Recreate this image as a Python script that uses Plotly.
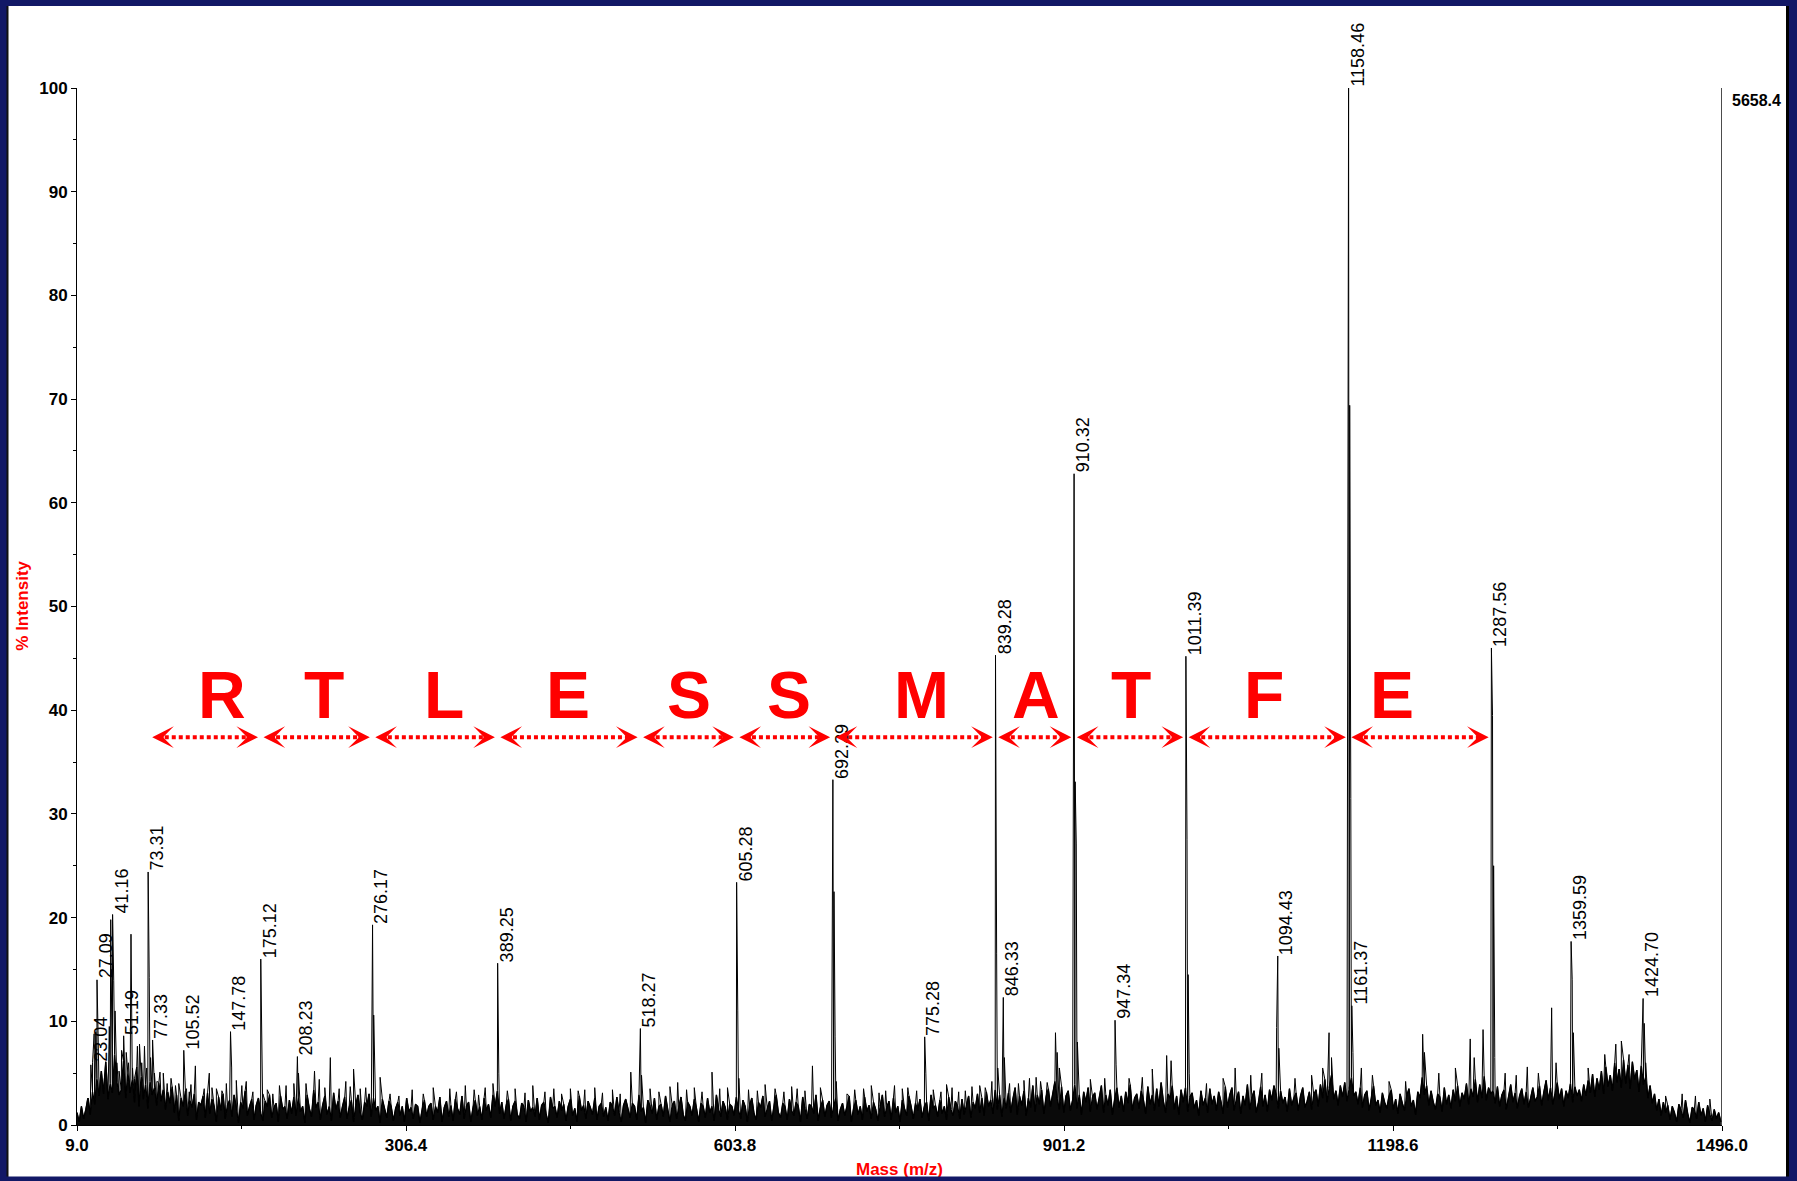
import plotly.graph_objects as go

# ---------------------------------------------------------------------------
# MS/MS spectrum of the peptide ...RTLESSMATFE (y-ion ladder annotated)
# ---------------------------------------------------------------------------

# Baseline noise, sampled on a regular m/z grid
mz_start = 9.0
mz_step = 2.0
noise_intensity = [
    1.2, 0.3, 1.8, 0.6, 1.5, 2.6, 1.0, 3.2, 2.0, 4.5, 2.8, 5.2, 3.0, 6.1, 2.5, 4.0, 3.1, 6.8, 4.2, 2.9,
    3.4, 6.2, 2.6, 5.0, 3.1, 4.4, 2.2, 5.6, 1.8, 4.7, 2.5, 3.9, 1.6, 4.2, 2.9, 3.6, 1.9, 4.1, 2.3, 3.4,
    1.5, 3.2, 2.1, 3.7, 1.2, 2.9, 0.4, 2.6, 1.8, 3.3, 0.9, 2.4, 1.7, 3.0, 0.5, 2.2, 1.9, 2.8, 0.7, 3.1,
    1.1, 2.5, 1.8, 0.3, 2.7, 1.4, 3.0, 0.6, 1.9, 2.4, 0.8, 2.9, 1.7, 0.2, 2.2, 1.6, 3.3, 0.9, 1.8, 2.5,
    0.5, 1.9, 2.6, 1.2, 0.4, 2.3, 1.8, 2.9, 0.7, 1.7, 2.1, 0.3, 2.8, 1.5, 1.8, 0.6, 2.4, 1.1, 2.7, 0.9,
    2.6, 1.3, 1.8, 0.2, 2.9, 1.6, 0.8, 3.4, 1.7, 2.2, 0.5, 1.9, 2.8, 1.0, 1.8, 0.4, 3.1, 1.5, 2.3, 0.7,
    1.8, 2.7, 0.6, 1.7, 2.4, 0.3, 1.9, 2.9, 1.2, 0.5, 2.2, 1.8, 3.0, 0.8, 2.6, 1.4, 1.8, 0.2, 2.5, 1.6,
    0.7, 2.3, 1.8, 0.4, 1.6, 2.2, 0.9, 1.8, 0.3, 2.6, 1.3, 1.7, 0.6, 2.0, 1.8, 0.2, 1.5, 2.4, 0.8, 1.8,
    2.1, 0.5, 1.8, 1.2, 2.7, 0.3, 1.7, 2.3, 0.8, 1.9, 0.4, 2.5, 1.6, 1.0, 2.8, 0.6, 1.8, 2.2, 0.3, 1.7,
    2.4, 0.9, 1.8, 0.5, 2.6, 1.4, 2.0, 0.7, 2.9, 1.8, 3.3, 1.1, 2.2, 0.6, 1.9, 2.5, 0.4, 1.8, 2.3, 1.0,
    0.6, 2.1, 1.8, 0.3, 2.4, 1.3, 1.7, 0.8, 2.6, 0.5, 1.9, 2.2, 1.1, 0.2, 2.7, 1.6, 1.8, 0.7, 2.3, 1.4,
    2.0, 0.4, 1.8, 2.5, 0.9, 1.6, 0.3, 2.8, 1.4, 1.9, 0.6, 2.3, 1.7, 1.0, 2.6, 0.5, 1.8, 2.1, 0.8, 1.7,
    0.4, 2.2, 1.8, 0.9, 2.7, 1.2, 0.3, 1.9, 2.5, 1.6, 0.7, 2.1, 1.8, 0.5, 2.9, 1.3, 1.7, 0.2, 2.4, 1.8,
    1.1, 2.6, 0.5, 1.8, 2.0, 0.8, 2.8, 1.5, 0.3, 1.9, 2.3, 0.6, 1.7, 2.7, 1.0, 0.4, 2.2, 1.8, 0.9, 2.5,
    1.6, 0.3, 2.1, 1.8, 0.7, 2.6, 1.2, 1.8, 0.4, 2.9, 1.5, 0.8, 2.3, 1.7, 0.5, 2.0, 1.8, 0.9, 2.7, 1.4,
    0.6, 2.4, 1.8, 0.3, 1.9, 2.6, 1.1, 0.5, 2.2, 1.7, 2.8, 0.8, 1.6, 2.3, 0.4, 1.8, 2.9, 1.2, 0.7, 2.1,
    1.8, 0.5, 2.5, 1.4, 0.9, 2.2, 1.8, 0.3, 2.7, 1.6, 0.6, 2.0, 1.8, 1.1, 2.9, 0.4, 1.7, 2.4, 0.8, 1.9,
    2.3, 0.7, 1.8, 2.6, 0.4, 1.5, 2.1, 0.9, 1.8, 2.8, 0.3, 1.6, 2.4, 1.0, 1.8, 0.5, 2.7, 1.3, 1.9, 0.6,
    2.2, 1.5, 0.4, 1.8, 2.9, 0.8, 1.7, 2.3, 0.5, 2.6, 1.2, 1.8, 0.3, 2.4, 1.6, 0.9, 2.8, 1.8, 0.6, 2.1,
    1.4, 2.5, 0.7, 1.8, 2.2, 0.4, 2.9, 1.6, 1.9, 0.8, 2.4, 1.1, 1.8, 0.5, 2.7, 1.5, 0.9, 2.3, 1.8, 0.6,
    2.5, 1.0, 1.9, 2.8, 0.7, 2.2, 1.6, 3.0, 1.2, 2.6, 0.9, 3.2, 1.8, 2.4, 1.1, 3.4, 1.5, 2.9, 0.8, 2.7,
    1.6, 3.1, 1.2, 2.5, 3.6, 1.0, 2.8, 1.9, 3.3, 0.9, 2.6, 1.7, 3.8, 1.3, 2.9, 2.0, 3.4, 1.1, 2.7, 3.5,
    1.8, 3.0, 4.2, 2.6, 1.5, 3.7, 1.2, 2.8, 3.3, 1.4, 2.4, 3.9, 1.6, 2.9, 1.0, 3.2, 2.2, 3.6, 1.3, 2.7,
    3.1, 1.5, 2.6, 3.8, 1.2, 2.9, 1.9, 3.4, 1.0, 2.5, 3.6, 1.7, 2.8, 1.3, 3.2, 2.1, 3.9, 1.4, 2.6, 3.0,
    1.6, 3.3, 2.4, 1.1, 3.7, 2.0, 2.9, 1.4, 3.5, 1.8, 4.1, 2.3, 1.2, 3.0, 2.6, 3.8, 1.5, 2.8, 1.0, 3.4,
    2.2, 3.6, 1.3, 2.7, 3.1, 1.6, 2.4, 0.9, 3.3, 1.9, 2.6, 1.2, 3.5, 2.0, 2.8, 1.4, 3.2, 2.3, 1.1, 3.7,
    1.7, 2.9, 3.6, 1.4, 2.5, 3.2, 1.1, 2.8, 1.9, 3.9, 1.5, 2.6, 3.3, 1.2, 2.2, 3.7, 1.8, 2.9, 1.3, 3.4,
    2.4, 3.8, 2.9, 1.6, 3.3, 2.1, 2.7, 1.3, 3.5, 1.9, 2.6, 3.1, 1.4, 2.8, 3.6, 1.7, 2.3, 3.2, 1.5, 2.9,
    3.4, 1.8, 3.9, 2.6, 4.4, 2.2, 3.6, 4.8, 2.5, 3.3, 1.9, 3.8, 2.7, 4.1, 2.3, 3.5, 4.6, 2.8, 3.2, 2.0,
    3.6, 1.7, 2.9, 3.3, 1.4, 2.6, 3.8, 1.9, 2.4, 1.2, 3.1, 2.2, 1.6, 2.8, 3.4, 1.5, 2.5, 1.1, 3.0, 2.1,
    1.4, 2.8, 3.5, 1.8, 2.4, 1.0, 3.2, 2.6, 4.6, 2.9, 3.8, 1.9, 3.3, 2.2, 1.5, 3.0, 2.7, 1.3, 3.6, 2.0,
    2.9, 1.6, 3.4, 2.3, 3.8, 1.8, 3.1, 2.5, 4.0, 2.0, 3.5, 2.7, 4.4, 2.2, 3.9, 2.6, 4.7, 2.4, 3.6, 3.0,
    3.3, 2.1, 3.7, 1.8, 2.9, 3.4, 1.5, 2.7, 3.9, 2.2, 3.1, 1.6, 2.8, 3.5, 2.0, 3.2, 1.7, 2.6, 3.6, 2.3,
    2.7, 3.8, 1.9, 3.2, 4.3, 2.4, 3.6, 2.0, 3.0, 4.1, 2.5, 3.5, 1.8, 3.3, 2.6, 4.0, 2.2, 3.7, 2.8, 3.4,
    2.3, 3.9, 2.8, 4.3, 3.1, 4.9, 2.7, 4.5, 3.4, 5.2, 3.0, 5.6, 3.7, 4.8, 3.3, 6.0, 4.1, 5.4, 3.6, 6.3,
    4.0, 5.8, 3.5, 6.1, 4.4, 5.3, 3.2, 5.7, 3.9, 4.6, 2.6, 3.8, 2.1, 3.0, 1.4, 2.5, 0.9, 2.2, 1.2, 1.9,
    0.5, 1.8, 1.2, 0.3, 2.0, 1.4, 0.7, 2.4, 1.1, 0.2, 1.7, 1.5, 0.6, 2.2, 0.9, 1.6, 0.3, 1.9, 1.0, 0.4,
    1.5, 0.6, 1.2, 0.3,
]

# Isolated noise spikes rising above the baseline band
spike_mz = [312.0, 322.0, 331.0, 352.0, 368.0, 372.0, 398.0, 405.0, 414.0, 421.0,
            432.0, 440.0, 447.0, 462.0, 477.0, 484.0, 493.0, 500.0, 527.0, 552.0,
            567.0, 574.0, 597.0, 616.0, 631.0, 648.0, 655.0, 667.0, 681.0, 712.0,
            727.0, 734.0, 755.0, 768.0, 783.0, 795.0, 806.0, 818.0, 836.0, 852.0,
            865.0, 876.0, 886.0, 112.0, 131.0, 162.0, 181.0, 198.0, 228.0, 256.0]
spike_intensity = [3.4, 3.0, 3.6, 3.2, 3.4, 2.9, 3.3, 3.5, 3.1, 3.8,
                   3.2, 3.5, 3.0, 3.3, 3.6, 3.1, 3.4, 3.0, 3.5, 4.1,
                   3.6, 3.2, 3.6, 3.4, 3.9, 3.2, 3.7, 3.3, 3.6, 3.4,
                   3.8, 3.1, 3.5, 3.3, 3.4, 3.9, 3.2, 3.7, 4.2, 4.0,
                   4.3, 4.6, 4.1, 3.9, 3.6, 4.2, 3.4, 3.8, 4.4, 3.7]

# Labelled fragment peaks (m/z, % intensity)
peak_mz = [23.04, 27.09, 41.16, 51.19, 73.31, 77.33, 105.52, 147.78, 175.12,
           208.23, 276.17, 389.25, 518.27, 605.28, 692.29, 775.28, 839.28,
           846.33, 910.32, 947.34, 1011.39, 1094.43, 1158.46, 1161.37,
           1287.56, 1359.59, 1424.70]
peak_intensity = [6.0, 14.0, 20.3, 8.6, 24.4, 8.2, 7.2, 9.0, 16.0,
                  6.6, 19.3, 15.6, 9.3, 23.4, 33.3, 8.5, 45.3,
                  12.3, 62.8, 10.1, 45.2, 16.3, 100.0, 11.5,
                  46.0, 17.7, 12.2]

# Unlabelled signals: isotope partners and minor fragments
minor_mz = [18.5, 21.5, 24.5, 26.0, 28.2, 30.0, 33.0, 36.0, 38.2, 39.5, 42.2, 43.4,
            45.0, 47.0, 49.3, 53.5, 55.5, 57.8, 59.2, 61.0, 63.6, 65.5, 67.5, 70.0,
            72.0, 74.3, 75.5, 79.0, 81.2, 84.0, 87.0, 90.5, 94.0, 98.0, 101.0, 108.0,
            110.5, 116.0, 124.0, 128.6, 135.0, 140.0, 144.0, 148.8, 153.0, 158.0, 168.0,
            177.0, 186.0, 192.0, 205.0, 209.2, 216.0, 223.7, 233.0, 238.0, 246.0, 252.0,
            259.0, 265.0, 270.0, 277.2, 283.0, 292.0, 300.0, 346.0, 360.0, 378.0, 385.0,
            390.3, 455.0, 468.0, 509.6, 519.3, 535.0, 545.0, 560.0, 583.0, 590.0, 606.3,
            607.3, 624.0, 640.0, 660.0, 673.8, 693.3, 694.3, 695.3, 705.0, 720.0, 740.0,
            748.0, 760.0, 776.3, 790.0, 800.0, 812.0, 825.0, 830.0, 840.3, 841.3, 847.3,
            860.0, 870.0, 880.0, 893.5, 895.0, 897.0, 911.3, 912.3, 913.3, 925.0, 938.0,
            948.3, 960.0, 972.0, 981.0, 994.0, 998.0, 1012.4, 1013.4, 1014.4, 1030.0,
            1045.0, 1055.9, 1070.0, 1080.0, 1093.4, 1095.4, 1110.0, 1125.0, 1135.0,
            1140.8, 1143.0, 1159.46, 1160.46, 1162.4, 1170.0, 1180.0, 1195.0, 1210.0,
            1225.4, 1227.0, 1240.0, 1255.0, 1268.4, 1272.0, 1280.0, 1288.56, 1289.56,
            1290.6, 1300.0, 1310.0, 1320.0, 1330.0, 1342.0, 1346.0, 1360.6, 1361.6,
            1375.0, 1390.0, 1400.0, 1405.0, 1412.0, 1425.7, 1427.0, 1445.0, 1460.0,
            1472.0, 1485.0]
minor_intensity = [2.5, 5.8, 8.8, 9.0, 8.0, 4.5, 3.5, 4.5, 9.5, 19.8, 13.9, 11.0,
                   6.0, 5.2, 7.2, 7.0, 6.0, 18.4, 5.5, 4.5, 7.6, 7.8, 6.0, 7.6,
                   5.5, 14.2, 6.5, 5.0, 4.2, 5.1, 5.0, 4.0, 4.5, 3.8, 4.0, 3.5,
                   3.2, 5.7, 3.5, 5.0, 3.5, 3.3, 4.0, 5.5, 4.3, 3.8, 3.2,
                   3.0, 3.0, 3.8, 4.0, 5.0, 4.0, 5.2, 3.6, 6.5, 3.5, 4.2,
                   5.4, 3.5, 3.6, 10.6, 4.6, 3.0, 2.8, 3.5, 3.8, 3.6, 4.0,
                   5.0, 3.5, 3.4, 5.1, 4.8, 3.2, 3.7, 3.4, 5.1, 3.5, 11.0,
                   4.5, 3.3, 3.5, 3.5, 5.7, 22.5, 8.5, 4.2, 3.0, 3.5, 3.3,
                   3.8, 3.6, 5.0, 3.2, 3.6, 3.3, 3.8, 3.6, 16.5, 5.5, 6.5,
                   4.0, 4.5, 4.2, 8.9, 7.0, 5.5, 33.1, 27.1, 8.0, 4.4, 4.5,
                   5.8, 4.5, 4.6, 5.4, 6.7, 6.2, 27.5, 14.5, 5.0, 4.0,
                   4.5, 5.5, 4.8, 5.0, 9.4, 7.4, 4.5, 4.8, 5.5,
                   8.9, 6.5, 69.4, 31.5, 7.0, 5.5, 4.8, 4.2, 4.2,
                   8.75, 7.0, 5.0, 5.5, 8.3, 6.5, 9.2, 39.5, 25.0,
                   6.5, 5.0, 4.8, 5.6, 5.0, 11.3, 6.0, 14.0, 8.9,
                   5.5, 6.8, 7.8, 8.1, 6.8, 9.8, 6.0, 2.8, 3.0,
                   2.8, 2.5]

# Sequence ladder: residue between consecutive fragment masses
residues = ["R", "T", "L", "E", "S", "S", "M", "A", "T", "F", "E"]
ladder_bounds = [74.5, 175.12, 276.17, 389.25, 518.27, 605.28, 692.29,
                 839.28, 910.32, 1011.39, 1158.46, 1287.56]
residue_label_mz = [140.5, 232.0, 341.0, 453.2, 562.5, 652.4, 772.3,
                    876.3, 962.0, 1082.0, 1197.6]
residue_label_level = 41.5
ladder_level = 37.4

# Axes
mz_range = [9.0, 1496.0]
mz_ticks = [9.0, 306.4, 603.8, 901.2, 1198.6, 1496.0]
mz_minor_ticks = [157.7, 455.1, 752.5, 1049.9, 1347.3]
intensity_ticks = [0, 10, 20, 30, 40, 50, 60, 70, 80, 90, 100]
intensity_minor_ticks = [5, 15, 25, 35, 45, 55, 65, 75, 85, 95]
base_peak_counts = "5658.4"

# ---------------------------------------------------------------------------
W, H = 1797, 1181
ML, MR, MT, MB = 77, 75, 88, 56
PW, PH = W - ML - MR, H - MT - MB

NAVY = "#121866"
RED = "#ff0000"
SANS = "Liberation Sans, Arial, sans-serif"


def px_x(px):
    return (px - ML) / PW


def px_y(py):
    return (H - MB - py) / PH


# merge noise grid with the discrete peaks into one continuous profile
noise_mz = [mz_start + i * mz_step for i in range(len(noise_intensity))]
profile = sorted(zip(noise_mz + spike_mz + peak_mz + minor_mz,
                     noise_intensity + spike_intensity + peak_intensity + minor_intensity))
prof_mz = [p[0] for p in profile]
prof_int = [p[1] for p in profile]

fig = go.Figure()
# the unresolved baseline is shaded down to zero so it reads as a solid band
fig.add_trace(go.Scatter(
    x=noise_mz, y=noise_intensity, mode="lines", fill="tozeroy",
    fillcolor="#0a0a0a",
    line=dict(color="black", width=1.4, simplify=False),
    hoverinfo="skip", showlegend=False,
))
fig.add_trace(go.Scatter(
    x=prof_mz, y=prof_int, mode="lines",
    line=dict(color="black", width=1, simplify=False),
    hoverinfo="skip", showlegend=False,
))

shapes = []
annotations = []

# white slide panel with dark side borders
shapes.append(dict(type="rect", xref="paper", yref="paper",
                   x0=px_x(7), x1=px_x(1786), y0=px_y(1177), y1=px_y(6),
                   fillcolor="white", line=dict(width=0), layer="below"))
shapes.append(dict(type="line", xref="paper", yref="paper",
                   x0=px_x(7.5), x1=px_x(7.5), y0=px_y(1177), y1=px_y(6),
                   line=dict(color="#111111", width=2), layer="below"))
shapes.append(dict(type="line", xref="paper", yref="paper",
                   x0=px_x(1787.5), x1=px_x(1787.5), y0=px_y(1177), y1=px_y(6),
                   line=dict(color="#000000", width=3), layer="below"))

# full-scale marker at the right end of the mass range
shapes.append(dict(type="line", xref="x", yref="y",
                   x0=mz_range[1], x1=mz_range[1], y0=0, y1=100,
                   line=dict(color="#111111", width=1.5)))
annotations.append(dict(x=mz_range[1], y=98.8, xref="x", yref="y",
                        text=base_peak_counts, showarrow=False,
                        xanchor="left", yanchor="middle", xshift=8,
                        font=dict(family=SANS, size=16, color="black", weight="bold")))

# peak labels, written vertically above each labelled peak
for mz, inten in zip(peak_mz, peak_intensity):
    annotations.append(dict(x=mz, y=inten, xref="x", yref="y",
                            text=f"{mz:.2f}", textangle=-90, showarrow=False,
                            xanchor="left", yanchor="bottom", xshift=-2,
                            borderpad=0,
                            font=dict(family=SANS, size=18, color="black")))

# y-ion ladder: dotted double-headed arrows with residue letters
gap = 2.5
for i, res in enumerate(residues):
    a = ladder_bounds[i] + gap
    b = ladder_bounds[i + 1] - gap
    shapes.append(dict(type="line", xref="x", yref="y",
                       x0=a + 5, x1=b - 5, y0=ladder_level, y1=ladder_level,
                       line=dict(color=RED, width=4, dash="4px,3px")))
    for tip, off in ((a, 18), (b, -18)):
        annotations.append(dict(x=tip, y=ladder_level, xref="x", yref="y",
                                text="", showarrow=True, ax=off, ay=0,
                                arrowhead=3, arrowsize=36, arrowwidth=0.1,
                                arrowcolor=RED, standoff=0))
    annotations.append(dict(x=residue_label_mz[i], y=residue_label_level,
                            xref="x", yref="y", text=res, showarrow=False,
                            xanchor="center", yanchor="middle",
                            font=dict(family=SANS, size=66, color=RED, weight="bold")))

# axis titles
annotations.append(dict(x=px_x(21.7), y=px_y(606), xref="paper", yref="paper",
                        text="% Intensity", textangle=-90, showarrow=False,
                        xanchor="center", yanchor="middle",
                        font=dict(family=SANS, size=17, color=RED, weight="bold")))
annotations.append(dict(x=px_x(899.5), y=px_y(1158), xref="paper", yref="paper",
                        text="Mass (m/z)", showarrow=False,
                        xanchor="center", yanchor="top",
                        font=dict(family=SANS, size=17, color=RED, weight="bold")))
# slide frame strip along the bottom edge
annotations.append(dict(x=0.5 * (px_x(0) + px_x(W)), y=px_y(1179.5),
                        xref="paper", yref="paper", text=" ", showarrow=False,
                        xanchor="center", yanchor="middle", width=W, height=5,
                        bgcolor=NAVY, borderpad=0, font=dict(size=1)))

tick_font = dict(family=SANS, size=17, color="black", weight="bold")

fig.update_layout(
    width=W, height=H,
    margin=dict(l=ML, r=MR, t=MT, b=MB, pad=0),
    paper_bgcolor=NAVY, plot_bgcolor="white",
    showlegend=False,
    shapes=shapes, annotations=annotations,
    xaxis=dict(
        range=mz_range, tickmode="array", tickvals=mz_ticks,
        ticktext=[f"{v:.1f}" for v in mz_ticks],
        ticks="outside", ticklen=5, tickwidth=1, tickcolor="black",
        showline=True, linecolor="black", linewidth=1,
        showgrid=False, zeroline=False, tickfont=tick_font,
        minor=dict(tickmode="array", tickvals=mz_minor_ticks, ticks="outside",
                   ticklen=3, tickwidth=1, tickcolor="black", showgrid=False),
    ),
    yaxis=dict(
        range=[0, 100], tickmode="array", tickvals=intensity_ticks,
        ticks="outside", ticklen=5, tickwidth=1, tickcolor="black",
        showline=True, linecolor="black", linewidth=1,
        showgrid=False, zeroline=False, tickfont=tick_font,
        minor=dict(tickmode="array", tickvals=intensity_minor_ticks, ticks="outside",
                   ticklen=3, tickwidth=1, tickcolor="black", showgrid=False),
    ),
)

fig.write_html("out.html")
